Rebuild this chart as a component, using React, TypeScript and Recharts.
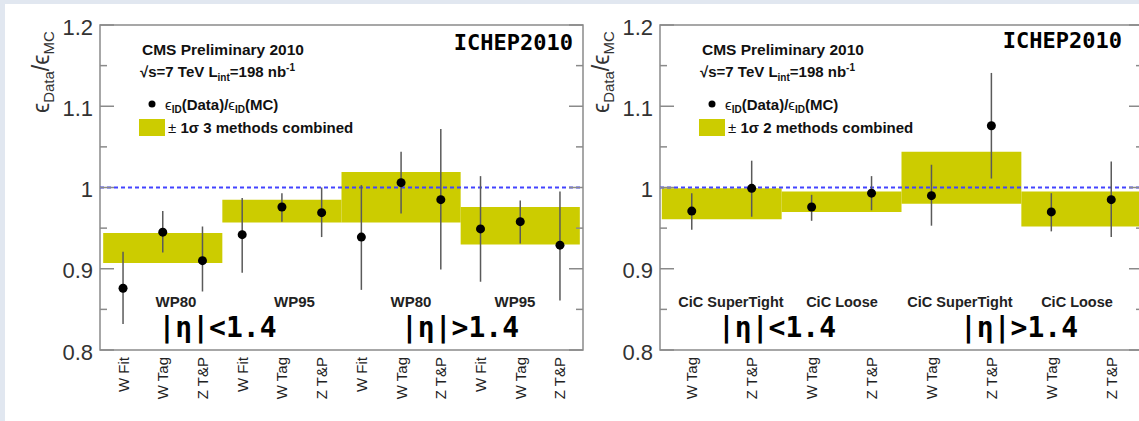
import React from 'react'
import { ComposedChart, XAxis, YAxis, Scatter, ErrorBar, ReferenceArea, ReferenceLine } from 'recharts'

// left panel: electron ID working points
const leftCats = ['W Fit', 'W Tag', 'Z T&P', 'W Fit', 'W Tag', 'Z T&P', 'W Fit', 'W Tag', 'Z T&P', 'W Fit', 'W Tag', 'Z T&P']
const leftValues = [0.876, 0.945, 0.910, 0.942, 0.976, 0.969, 0.939, 1.006, 0.985, 0.949, 0.958, 0.929]
const leftLow = [0.832, 0.920, 0.872, 0.895, 0.958, 0.939, 0.874, 0.968, 0.899, 0.884, 0.931, 0.861]
const leftHigh = [0.921, 0.971, 0.952, 0.987, 0.993, 1.000, 1.003, 1.044, 1.072, 1.014, 0.984, 0.995]
const leftBoxFrom = [0, 3, 6, 9]
const leftBoxTo = [2, 5, 8, 11]
const leftBoxLow = [0.907, 0.957, 0.957, 0.930]
const leftBoxHigh = [0.944, 0.985, 1.019, 0.976]

// right panel: photon ID (CiC)
const rightCats = ['W Tag', 'Z T&P', 'W Tag', 'Z T&P', 'W Tag', 'Z T&P', 'W Tag', 'Z T&P']
const rightValues = [0.971, 0.999, 0.976, 0.993, 0.990, 1.076, 0.970, 0.985]
const rightLow = [0.948, 0.964, 0.959, 0.972, 0.953, 1.011, 0.946, 0.939]
const rightHigh = [0.993, 1.033, 0.991, 1.014, 1.028, 1.141, 0.993, 1.032]
const rightBoxFrom = [0, 2, 4, 6]
const rightBoxTo = [1, 3, 5, 7]
const rightBoxLow = [0.961, 0.970, 0.980, 0.952]
const rightBoxHigh = [0.999, 0.995, 1.044, 0.995]

const yTicks = [0.8, 0.85, 0.9, 0.95, 1.0, 1.05, 1.1, 1.15, 1.2]

const YELLOW = '#cccc00'
const FRAME = '#8a8a8a'
const SANS = '"Liberation Sans", Arial, sans-serif'
const MONO = '"DejaVu Sans Mono", monospace'
const PLOT_W = 483

const YTick = (props: any) => {
  const { x, y, payload } = props
  const v = payload.value
  const major = Math.abs(v * 10 - Math.round(v * 10)) < 1e-6
  const len = major ? 14 : 7
  const label = Math.abs(v - 1) < 1e-6 ? '1' : v.toFixed(1)
  return (
    <g>
      <line x1={x} x2={x + len} y1={y} y2={y} stroke={FRAME} strokeWidth={1.5} />
      <line x1={x + PLOT_W - len} x2={x + PLOT_W} y1={y} y2={y} stroke={FRAME} strokeWidth={1.5} />
      {major && (
        <text x={x - 7} y={y} dy={9.5} textAnchor="end" fontSize={22} fontFamily={SANS} fill="#333">
          {label}
        </text>
      )}
    </g>
  )
}

const makeXTick = (cats: string[]) => (props: any) => {
  const { x, y, payload } = props
  return (
    <text transform={`translate(${x + 5.5},${y + 7}) rotate(-90)`} textAnchor="end" fontSize={15} fontFamily={SANS} fill="#222">
      {cats[payload.value]}
    </text>
  )
}

const Dot = (props: any) => <circle cx={props.cx} cy={props.cy} r={4.5} fill="#000" />

function Panel({ left, cats, values, low, high, boxFrom, boxTo, boxLow, boxHigh, pad }: any) {
  const points = values.map((v: number, i: number) => ({ x: i, y: v, err: [v - low[i], high[i] - v] }))
  const domain = [-pad, cats.length - 1 + pad]
  return (
    <div style={{ position: 'absolute', left, top: 0 }}>
      <ComposedChart width={590} height={421} data={points} margin={{ top: 25, right: 7, bottom: 0, left: 0 }}>
        <XAxis type="number" dataKey="x" domain={domain} ticks={cats.map((_: string, i: number) => i)} interval={0}
          height={71} tickSize={0} tickMargin={0} axisLine={false} tick={makeXTick(cats)} />
        <YAxis type="number" domain={[0.8, 1.2]} ticks={yTicks} interval={0} width={100}
          tickSize={0} tickMargin={0} axisLine={false} tick={YTick} />
        {boxFrom.map((f: number, i: number) => (
          <ReferenceArea key={i} x1={f - 0.5} x2={boxTo[i] + 0.5} y1={boxLow[i]} y2={boxHigh[i]}
            fill={YELLOW} fillOpacity={1} stroke="none" />
        ))}
        <ReferenceLine y={1} stroke="#4343ff" strokeWidth={2} strokeDasharray="4 3" />
        <Scatter dataKey="y" shape={Dot} isAnimationActive={false}>
          <ErrorBar dataKey="err" direction="y" width={0} stroke="#5a5a5a" strokeWidth={1.5} isAnimationActive={false} />
        </Scatter>
        <ReferenceArea x1={domain[0]} x2={domain[1]} y1={0.8} y2={1.2} fill="none" stroke={FRAME} strokeWidth={1.5} />
      </ComposedChart>
    </div>
  )
}

function Legend({ dx, methods }: { dx: number; methods: string }) {
  return (
    <g fontFamily={SANS} fill="#111">
      <text x={142 + dx} y={54.5} fontSize={15.5} fontWeight="bold">CMS Preliminary 2010</text>
      <text x={140 + dx} y={76.5} fontSize={15} fontWeight="bold">
        √s=7 TeV L<tspan fontSize={10} dy={4}>int</tspan><tspan dy={-4}>=198 nb</tspan>
        <tspan fontSize={10} dy={-6}>-1</tspan>
      </text>
      <circle cx={152 + dx} cy={104} r={3.5} fill="#000" />
      <text x={165 + dx} y={109.5} fontSize={15} fontWeight="bold">
        <tspan fontWeight="normal">ϵ</tspan><tspan fontSize={10} dy={3}>ID</tspan><tspan dy={-3}>(Data)/</tspan>
        <tspan fontWeight="normal">ϵ</tspan><tspan fontSize={10} dy={3}>ID</tspan><tspan dy={-3}>(MC)</tspan>
      </text>
      <rect x={139 + dx} y={119} width={26} height={17} fill={YELLOW} />
      <text x={168 + dx} y={133} fontSize={15} fontWeight="bold">
        <tspan fontWeight="normal">±</tspan> 1σ {methods} methods combined
      </text>
      <text transform={`translate(${49 + dx},113) rotate(-90)`} fontSize={23} fill="#333">
        ϵ<tspan fontSize={15} dy={5}>Data</tspan><tspan dy={-5}>/ϵ</tspan><tspan fontSize={15} dy={5}>MC</tspan>
      </text>
    </g>
  )
}

export default function App() {
  return (
    <div style={{ position: 'absolute', left: 0, top: 0, width: 1139, height: 421, background: '#e1e7f0', overflow: 'hidden' }}>
      <div style={{ position: 'absolute', left: 5, top: 4, right: 0, bottom: 0, background: '#fff' }} />
      <Panel left={0} cats={leftCats} values={leftValues} low={leftLow} high={leftHigh}
        boxFrom={leftBoxFrom} boxTo={leftBoxTo} boxLow={leftBoxLow} boxHigh={leftBoxHigh} pad={0.58} />
      <Panel left={560} cats={rightCats} values={rightValues} low={rightLow} high={rightHigh}
        boxFrom={rightBoxFrom} boxTo={rightBoxTo} boxLow={rightBoxLow} boxHigh={rightBoxHigh} pad={0.53} />
      <svg width={1139} height={421} style={{ position: 'absolute', left: 0, top: 0, pointerEvents: 'none' }}>
        <Legend dx={0} methods="3" />
        <Legend dx={560} methods="2" />
        <g fontFamily={MONO} fontWeight="bold" fill="#000">
          <text x={573} y={49.5} fontSize={22} textAnchor="end">ICHEP2010</text>
          <text x={1122} y={48} fontSize={22} textAnchor="end">ICHEP2010</text>
          <text x={217.5} y={337} fontSize={28} textAnchor="middle">|η|&lt;1.4</text>
          <text x={460} y={337} fontSize={28} textAnchor="middle">|η|&gt;1.4</text>
          <text x={777} y={337} fontSize={28} textAnchor="middle">|η|&lt;1.4</text>
          <text x={1019} y={337} fontSize={28} textAnchor="middle">|η|&gt;1.4</text>
        </g>
        <g fontFamily={SANS} fontWeight="bold" fill="#222" textAnchor="middle">
          <text x={176} y={307} fontSize={15}>WP80</text>
          <text x={294.5} y={307} fontSize={15}>WP95</text>
          <text x={411} y={307} fontSize={15}>WP80</text>
          <text x={515} y={307} fontSize={15}>WP95</text>
          <text x={731} y={306.5} fontSize={14.5}>CiC SuperTight</text>
          <text x={842} y={306.5} fontSize={14.5}>CiC Loose</text>
          <text x={960} y={306.5} fontSize={14.5}>CiC SuperTight</text>
          <text x={1077} y={306.5} fontSize={14.5}>CiC Loose</text>
        </g>
      </svg>
    </div>
  )
}
